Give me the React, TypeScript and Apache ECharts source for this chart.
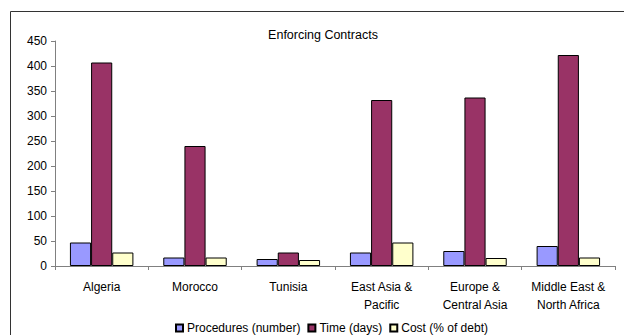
import React, { useEffect, useRef } from "react";
import * as echarts from "echarts";

const categories = ["Algeria", "Morocco", "Tunisia", "East Asia &\nPacific", "Europe &\nCentral Asia", "Middle East &\nNorth Africa"];
const procedures = [47, 17, 14, 27, 30, 40];
const timeDays = [407, 240, 27, 332, 337, 422];
const costPct = [27, 17, 12, 47, 16, 17];
const yTicks = [0, 50, 100, 150, 200, 250, 300, 350, 400, 450];

export default function App() {
  const ref = useRef<HTMLDivElement>(null);
  useEffect(() => {
    document.body.style.margin = "0";
    const chart = echarts.init(ref.current!, null, { renderer: "svg" });
    const font = "Liberation Sans, Arial, sans-serif";
    const bar = (name: string, data: number[], color: string) => ({
      name,
      type: "bar",
      data,
      barGap: "0%",
      barCategoryGap: "32%",
      itemStyle: { color, borderColor: "#000", borderWidth: 1 },
    });
    chart.setOption({
      animation: false,
      title: {
        text: "Enforcing Contracts",
        left: 318,
        textAlign: "center",
        top: 23,
        textStyle: { fontSize: 12.5, fontWeight: "normal", color: "#000", fontFamily: font },
      },
      graphic: [
        {
          type: "rect",
          shape: { x: 10.5, y: 11.5, width: 700, height: 400 },
          style: { fill: "none", stroke: "#333", lineWidth: 1 },
        },
      ],
      grid: { left: 55, right: 9, top: 41, bottom: 69 },
      legend: {
        top: 317,
        left: 170,
        itemWidth: 7,
        itemHeight: 7,
        itemGap: 7,
        icon: "rect",
        textStyle: { fontSize: 12, color: "#000", fontFamily: font, padding: [0, 0, 0, -1] },
        data: ["Procedures (number)", "Time (days)", "Cost (% of debt)"],
      },
      xAxis: {
        type: "category",
        data: categories,
        axisLine: { lineStyle: { color: "#808080" } },
        axisTick: { show: true, length: 4, lineStyle: { color: "#808080" } },
        axisLabel: { interval: 0, fontSize: 12, color: "#000", fontFamily: font, lineHeight: 18, margin: 12 },
      },
      yAxis: {
        type: "value",
        min: yTicks[0],
        max: yTicks[yTicks.length - 1],
        interval: 50,
        axisLine: { show: true, lineStyle: { color: "#808080" } },
        axisTick: { show: true, inside: false, length: 4, lineStyle: { color: "#808080" } },
        splitLine: { show: false },
        axisLabel: { fontSize: 12, color: "#000", fontFamily: font, margin: 8 },
      },
      series: [
        bar("Procedures (number)", procedures, "#9999FF"),
        bar("Time (days)", timeDays, "#993366"),
        bar("Cost (% of debt)", costPct, "#FFFFCC"),
      ],
    });
    return () => chart.dispose();
  }, []);
  return <div ref={ref} style={{ width: 624, height: 335 }} />;
}
